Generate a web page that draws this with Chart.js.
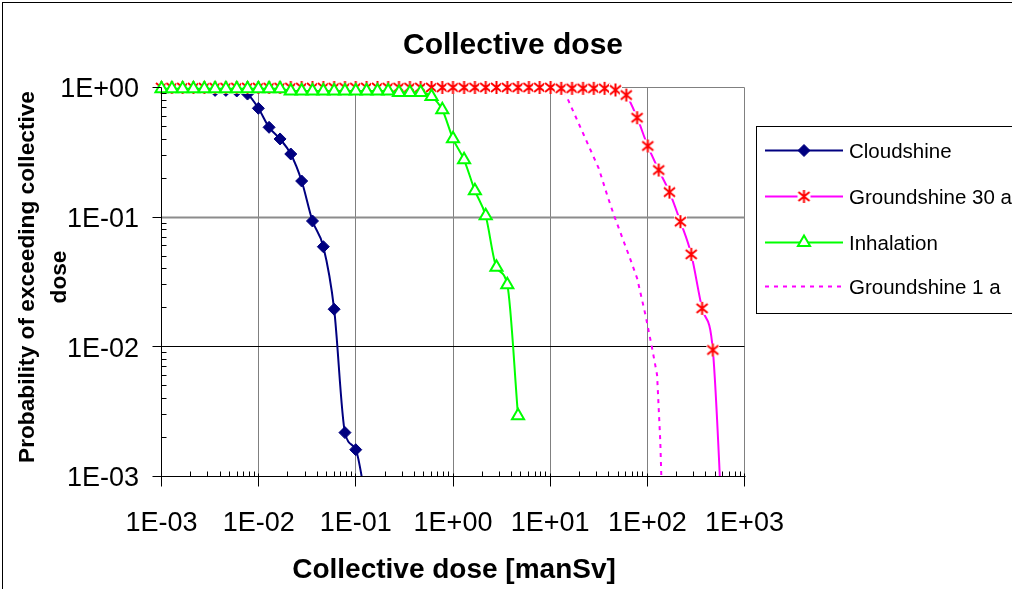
<!DOCTYPE html>
<html><head><meta charset="utf-8">
<script src="https://cdn.jsdelivr.net/npm/chart.js@4.4.1/dist/chart.umd.min.js"></script>
<style>html,body{margin:0;padding:0;background:#fff;}canvas{display:block}</style>
</head><body>
<canvas id="c" width="1012" height="589"></canvas>
<script>
// ---------- text ----------
const chartTitle = 'Collective dose';
const xAxisTitle = 'Collective dose [manSv]';
const yAxisTitle = ['Probability of exceeding collective', 'dose'];
const seriesNames = ['Cloudshine', 'Groundshine 30 a', 'Inhalation', 'Groundshine 1 a'];

// ---------- axes ----------
const xTickValues = [0.001, 0.01, 0.1, 1, 10, 100, 1000];
const xTickLabels = ['1E-03', '1E-02', '1E-01', '1E+00', '1E+01', '1E+02', '1E+03'];
const yTickValues = [1, 0.1, 0.01, 0.001];
const yTickLabels = ['1E+00', '1E-01', '1E-02', '1E-03'];

// ---------- data ----------
const cloudshineDose = [0.00356, 0.0046, 0.00595, 0.00768, 0.00993, 0.0128, 0.0166, 0.0214, 0.0277, 0.0358, 0.0463, 0.0598, 0.0773, 0.0998, 0.129];
const cloudshineProb = [0.95, 0.95, 0.94, 0.89, 0.691, 0.493, 0.401, 0.307, 0.190, 0.0934, 0.0592, 0.0195, 0.00218, 0.00161, 0.0006];

const ground30Dose = [0.001, 0.00128, 0.00165, 0.00213, 0.00276, 0.00356, 0.0046, 0.00595, 0.00768, 0.00993,
  0.0128, 0.0166, 0.0214, 0.0277, 0.0358, 0.0463, 0.0598, 0.0773, 0.0998, 0.129,
  0.167, 0.215, 0.278, 0.36, 0.465, 0.601, 0.776, 1.0, 1.3, 1.68,
  2.17, 2.8, 3.62, 4.67, 6.04, 7.8, 10.1, 13.0, 16.8, 21.8,
  28.1, 36.3, 47.0, 60.7, 78.5, 101, 131, 169, 219, 283,
  366, 472, 610];
const ground30Prob = [1, 1, 1, 1, 1, 1, 1, 1, 1, 1,
  1, 1, 1, 1, 1, 1, 1, 1, 1, 1,
  1, 1, 1, 1, 1, 1, 1, 1, 1, 1,
  1, 1, 1, 1, 1, 1, 1, 0.985, 0.985, 0.985,
  0.985, 0.985, 0.957, 0.875, 0.585, 0.354, 0.231, 0.156, 0.0923, 0.0517,
  0.0198, 0.00946, 0.00024];

const inhalationDose = [0.001, 0.00128, 0.00165, 0.00213, 0.00276, 0.00356, 0.0046, 0.00595, 0.00768, 0.00993,
  0.0128, 0.0166, 0.0214, 0.0277, 0.0358, 0.0463, 0.0598, 0.0773, 0.0998, 0.129,
  0.167, 0.215, 0.278, 0.36, 0.465, 0.601, 0.776, 1.0, 1.3, 1.68,
  2.17, 2.8, 3.62, 4.67];
const inhalationProb = [0.98, 0.98, 0.98, 0.98, 0.98, 0.98, 0.98, 0.98, 0.98, 0.98,
  0.98, 0.98, 0.94, 0.94, 0.94, 0.94, 0.94, 0.94, 0.94, 0.94,
  0.94, 0.94, 0.915, 0.915, 0.915, 0.852, 0.673, 0.402, 0.277, 0.160,
  0.1025, 0.0411, 0.0301, 0.00294];

const ground1Dose = [0.001, 13.4, 15.6, 22.2, 31.6, 38.6, 45.2, 64.4, 78.6, 95.7, 112, 126, 136, 141.6];
const ground1Prob = [1, 1, 0.777, 0.430, 0.238, 0.148, 0.104, 0.0511, 0.0337, 0.0176, 0.00975, 0.00607, 0.00185, 0.00066];

const pts = (xs, ys) => xs.map((v, i) => ({x: v, y: ys[i]}));

// asterisk marker (Excel style "*", white background)
const asterisk = (() => {
  const c = document.createElement('canvas'); c.width = 15; c.height = 15;
  const g = c.getContext('2d');
  g.fillStyle = '#ffffff'; g.fillRect(1, 1, 13, 13);
  g.strokeStyle = '#FF0000'; g.lineWidth = 2;
  g.beginPath();
  g.moveTo(7.5, 1); g.lineTo(7.5, 14);
  g.moveTo(2, 3); g.lineTo(13, 12);
  g.moveTo(13, 3); g.lineTo(2, 12);
  g.stroke();
  return c;
})();

const FONT = '"Liberation Sans", Arial, sans-serif';
const clipBox = {left: 10, top: 15, right: 0, bottom: 0};

const datasets = [
  {label: seriesNames[0], data: pts(cloudshineDose, cloudshineProb), borderColor: '#000080', backgroundColor: '#000080',
   borderWidth: 2, pointStyle: 'rectRot', pointRadius: 6, pointBorderWidth: 1, cubicInterpolationMode: 'monotone', order: 2, clip: clipBox},
  {label: seriesNames[1], data: pts(ground30Dose, ground30Prob), borderColor: '#FF00FF', backgroundColor: '#FF0000',
   borderWidth: 2, pointStyle: asterisk, pointRadius: 7, cubicInterpolationMode: 'monotone', order: 1, clip: clipBox},
  {label: seriesNames[2], data: pts(inhalationDose, inhalationProb), borderColor: '#00FF00', backgroundColor: '#ffffff',
   pointBorderColor: '#00FF00', pointBackgroundColor: '#ffffff',
   borderWidth: 2, pointStyle: 'triangle', pointRadius: 7, pointBorderWidth: 2, cubicInterpolationMode: 'monotone', order: 0, clip: clipBox},
  {label: seriesNames[3], data: pts(ground1Dose, ground1Prob), borderColor: '#FF00FF', backgroundColor: '#FF00FF',
   borderWidth: 2, borderDash: [4, 5], pointRadius: 0, order: 3, clip: clipBox}
];

const decor = {
  id: 'decor',
  beforeDatasetsDraw(chart) {
    const {ctx, chartArea: a, scales: {x, y}} = chart;
    ctx.save();
    ctx.lineWidth = 1; ctx.strokeStyle = '#808080';
    xTickValues.forEach(v => {
      if (v === xTickValues[0]) return;
      const px = Math.floor(x.getPixelForValue(v)) + 0.5;
      ctx.beginPath(); ctx.moveTo(px, a.top); ctx.lineTo(px, a.bottom); ctx.stroke();
    });
    yTickValues.forEach(v => {
      if (v === 0.001) return;
      const py = Math.floor(y.getPixelForValue(v)) + 0.5;
      if (v === 0.01) { ctx.strokeStyle = '#000000'; ctx.lineWidth = 1; }
      else if (v === 0.1) { ctx.strokeStyle = '#8c8c8c'; ctx.lineWidth = 2; }
      else { ctx.strokeStyle = '#808080'; ctx.lineWidth = 1; }
      ctx.beginPath(); ctx.moveTo(a.left, py); ctx.lineTo(a.right, py); ctx.stroke();
    });
    ctx.restore();
  },
  afterDatasetsDraw(chart) {
    const {ctx, chartArea: a, scales: {x, y}} = chart;
    ctx.save();
    ctx.strokeStyle = '#000'; ctx.lineWidth = 1;
    const L = Math.floor(a.left) + 0.5, B = Math.floor(a.bottom) + 0.5;
    ctx.beginPath();
    ctx.moveTo(L, a.top); ctx.lineTo(L, B);
    ctx.moveTo(a.left, B); ctx.lineTo(a.right + 1, B);
    for (let d = -3; d <= 3; d++) {
      for (let m = 1; m <= 9; m++) {
        if (d === 3 && m > 1) break;
        const px = Math.floor(x.getPixelForValue(m * Math.pow(10, d))) + 0.5;
        if (m === 1) { ctx.moveTo(px, B - 3); ctx.lineTo(px, B + 10); }
        else { ctx.moveTo(px, B - 5); ctx.lineTo(px, B); }
      }
    }
    for (let d = -3; d <= 0; d++) {
      for (let m = 1; m <= 9; m++) {
        if (d === 0 && m > 1) break;
        const py = Math.floor(y.getPixelForValue(m * Math.pow(10, d))) + 0.5;
        if (m === 1) { ctx.moveTo(L - 9, py); ctx.lineTo(L, py); }
        else { ctx.moveTo(L, py); ctx.lineTo(L + 5, py); }
      }
    }
    ctx.stroke();
    ctx.restore();
  },
  afterDraw(chart) {
    const {ctx, scales: {x, y}} = chart;
    ctx.save();
    ctx.fillStyle = '#000';
    ctx.font = '27px ' + FONT;
    ctx.textAlign = 'right'; ctx.textBaseline = 'alphabetic';
    yTickValues.forEach((v, i) => ctx.fillText(yTickLabels[i], 139, y.getPixelForValue(v) + 9.7));
    ctx.textAlign = 'center';
    xTickValues.forEach((v, i) => ctx.fillText(xTickLabels[i], x.getPixelForValue(v), 530.7));
    ctx.font = 'bold 30px ' + FONT;
    ctx.fillText(chartTitle, 513, 53.5);
    ctx.font = 'bold 28px ' + FONT;
    ctx.fillText(xAxisTitle, 454, 578);
    ctx.font = 'bold 22.7px ' + FONT;
    ctx.save();
    ctx.translate(34, 277); ctx.rotate(-Math.PI / 2);
    ctx.fillText(yAxisTitle[0], 0, 0);
    ctx.restore();
    ctx.save();
    ctx.translate(65.5, 277); ctx.rotate(-Math.PI / 2);
    ctx.fillText(yAxisTitle[1], 0, 0);
    ctx.restore();

    // legend
    ctx.strokeStyle = '#000'; ctx.lineWidth = 1;
    ctx.strokeRect(756.5, 126.5, 400, 187);
    const rows = [150.5, 196.5, 242.5, 286.5];
    const x0 = 765, x1 = 843, mx = 804;
    chart.data.datasets.forEach((ds, i) => {
      const ry = rows[i];
      ctx.save();
      ctx.strokeStyle = ds.borderColor; ctx.lineWidth = ds.borderWidth;
      ctx.setLineDash(ds.borderDash || []);
      ctx.beginPath(); ctx.moveTo(x0, ry); ctx.lineTo(x1, ry); ctx.stroke();
      ctx.setLineDash([]);
      if (ds.pointRadius > 0) {
        ctx.fillStyle = ds.pointBackgroundColor || ds.backgroundColor;
        ctx.strokeStyle = ds.pointBorderColor || ds.borderColor;
        if (i === 0) ctx.strokeStyle = ds.backgroundColor;
        ctx.lineWidth = ds.pointBorderWidth || 1;
        Chart.helpers.drawPoint(ctx, {pointStyle: ds.pointStyle, radius: ds.pointRadius, borderWidth: ds.pointBorderWidth || 0, rotation: 0}, mx, ry);
      }
      ctx.restore();
      ctx.font = '20.5px ' + FONT; ctx.fillStyle = '#000'; ctx.textAlign = 'left';
      ctx.fillText(ds.label, 849, ry + 7.3);
    });

    ctx.strokeStyle = '#000'; ctx.lineWidth = 1;
    ctx.strokeRect(2.5, 2.5, 1100, 700);
    ctx.restore();
  }
};

new Chart(document.getElementById('c'), {
  type: 'line',
  data: {datasets},
  options: {
    responsive: false, animation: false, devicePixelRatio: 1, events: [],
    layout: {padding: {left: 0, top: 87.5, right: 267.5, bottom: 0}},
    plugins: {legend: {display: false}, title: {display: false}, tooltip: {enabled: false}},
    scales: {
      x: {type: 'logarithmic', position: 'bottom', min: 0.001, max: 1000,
          ticks: {display: false}, grid: {display: false}, border: {display: false},
          afterFit(s) { s.height = 112.5; }},
      y: {type: 'logarithmic', position: 'left', min: 0.001, max: 1,
          ticks: {display: false}, grid: {display: false}, border: {display: false},
          afterFit(s) { s.width = 161.5; }}
    }
  },
  plugins: [decor]
});
</script>
</body></html>
